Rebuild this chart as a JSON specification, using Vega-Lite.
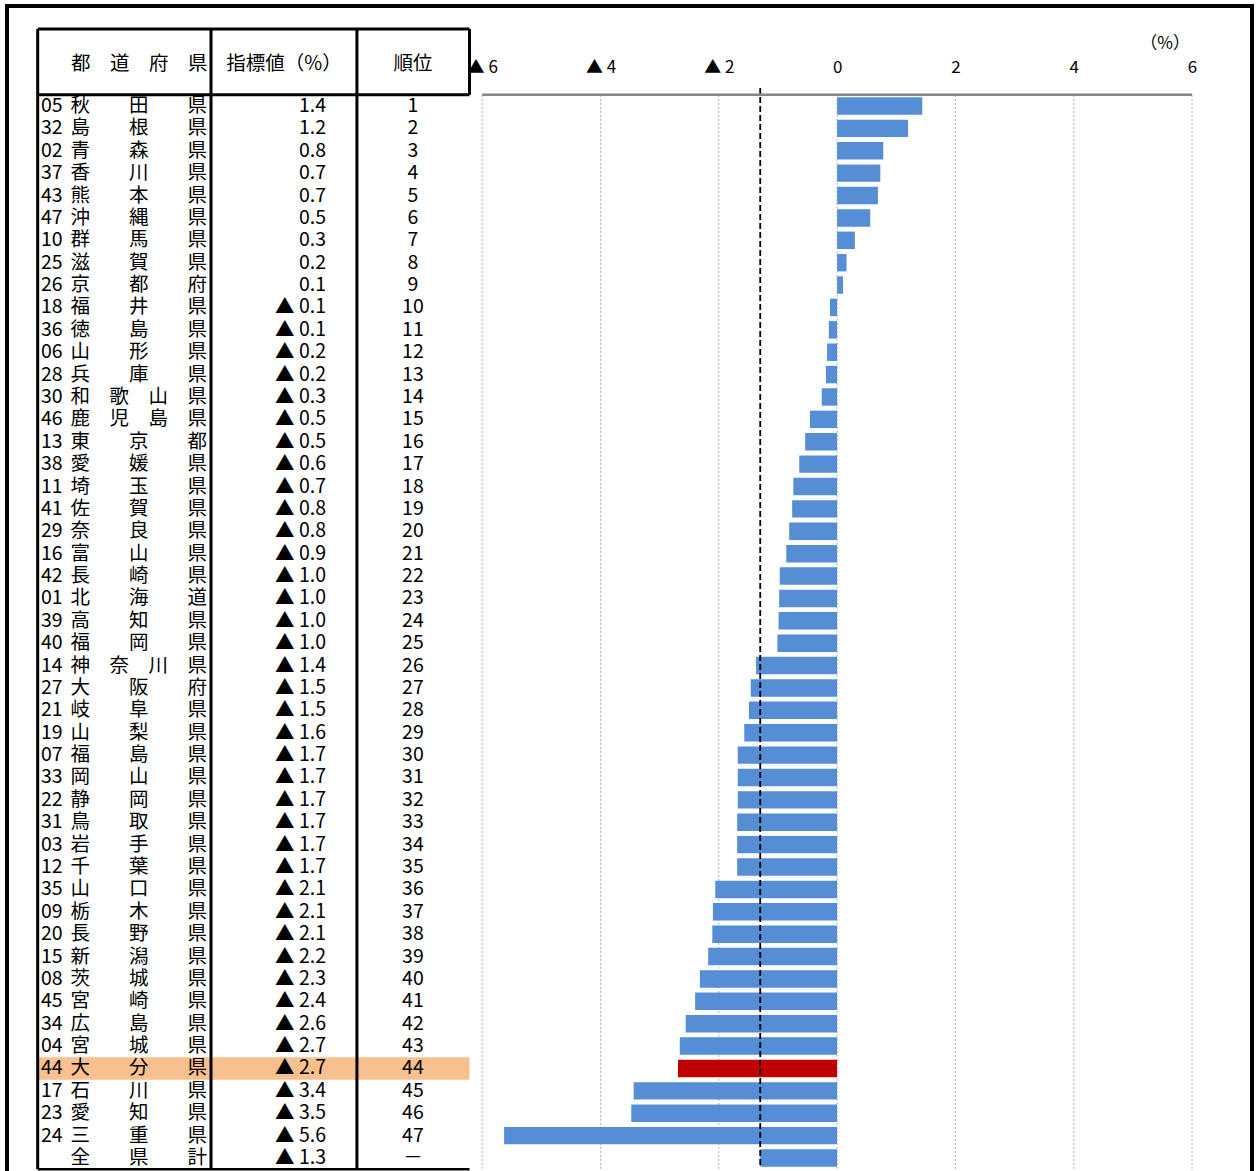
{
  "$schema": "https://vega.github.io/schema/vega-lite/v6.json",
  "autosize": {"type": "none"},
  "width": 1245,
  "height": 1168,
  "padding": {"left": 7, "top": 6, "right": 4, "bottom": -3},
  "background": "white",
  "config": {
    "font": "Noto Sans CJK JP",
    "view": {"stroke": "black", "strokeWidth": 4},
    "text": {"font": "Noto Sans CJK JP", "fontSize": 19.5, "color": "black"}
  },
  "datasets": {
    "rows": [
      {"code": "05", "name": "秋　　田　　県", "value": 1.44, "label": "1.4", "rank": "1"},
      {"code": "32", "name": "島　　根　　県", "value": 1.2, "label": "1.2", "rank": "2"},
      {"code": "02", "name": "青　　森　　県", "value": 0.78, "label": "0.8", "rank": "3"},
      {"code": "37", "name": "香　　川　　県", "value": 0.73, "label": "0.7", "rank": "4"},
      {"code": "43", "name": "熊　　本　　県", "value": 0.69, "label": "0.7", "rank": "5"},
      {"code": "47", "name": "沖　　縄　　県", "value": 0.56, "label": "0.5", "rank": "6"},
      {"code": "10", "name": "群　　馬　　県", "value": 0.3, "label": "0.3", "rank": "7"},
      {"code": "25", "name": "滋　　賀　　県", "value": 0.16, "label": "0.2", "rank": "8"},
      {"code": "26", "name": "京　　都　　府", "value": 0.1, "label": "0.1", "rank": "9"},
      {"code": "18", "name": "福　　井　　県", "value": -0.12, "label": "▲ 0.1", "rank": "10"},
      {"code": "36", "name": "徳　　島　　県", "value": -0.14, "label": "▲ 0.1", "rank": "11"},
      {"code": "06", "name": "山　　形　　県", "value": -0.17, "label": "▲ 0.2", "rank": "12"},
      {"code": "28", "name": "兵　　庫　　県", "value": -0.19, "label": "▲ 0.2", "rank": "13"},
      {"code": "30", "name": "和　歌　山　県", "value": -0.26, "label": "▲ 0.3", "rank": "14"},
      {"code": "46", "name": "鹿　児　島　県", "value": -0.46, "label": "▲ 0.5", "rank": "15"},
      {"code": "13", "name": "東　　京　　都", "value": -0.54, "label": "▲ 0.5", "rank": "16"},
      {"code": "38", "name": "愛　　媛　　県", "value": -0.64, "label": "▲ 0.6", "rank": "17"},
      {"code": "11", "name": "埼　　玉　　県", "value": -0.74, "label": "▲ 0.7", "rank": "18"},
      {"code": "41", "name": "佐　　賀　　県", "value": -0.76, "label": "▲ 0.8", "rank": "19"},
      {"code": "29", "name": "奈　　良　　県", "value": -0.81, "label": "▲ 0.8", "rank": "20"},
      {"code": "16", "name": "富　　山　　県", "value": -0.86, "label": "▲ 0.9", "rank": "21"},
      {"code": "42", "name": "長　　崎　　県", "value": -0.97, "label": "▲ 1.0", "rank": "22"},
      {"code": "01", "name": "北　　海　　道", "value": -0.98, "label": "▲ 1.0", "rank": "23"},
      {"code": "39", "name": "高　　知　　県", "value": -0.99, "label": "▲ 1.0", "rank": "24"},
      {"code": "40", "name": "福　　岡　　県", "value": -1.01, "label": "▲ 1.0", "rank": "25"},
      {"code": "14", "name": "神　奈　川　県", "value": -1.37, "label": "▲ 1.4", "rank": "26"},
      {"code": "27", "name": "大　　阪　　府", "value": -1.46, "label": "▲ 1.5", "rank": "27"},
      {"code": "21", "name": "岐　　阜　　県", "value": -1.49, "label": "▲ 1.5", "rank": "28"},
      {"code": "19", "name": "山　　梨　　県", "value": -1.57, "label": "▲ 1.6", "rank": "29"},
      {"code": "07", "name": "福　　島　　県", "value": -1.68, "label": "▲ 1.7", "rank": "30"},
      {"code": "33", "name": "岡　　山　　県", "value": -1.68, "label": "▲ 1.7", "rank": "31"},
      {"code": "22", "name": "静　　岡　　県", "value": -1.68, "label": "▲ 1.7", "rank": "32"},
      {"code": "31", "name": "鳥　　取　　県", "value": -1.69, "label": "▲ 1.7", "rank": "33"},
      {"code": "03", "name": "岩　　手　　県", "value": -1.69, "label": "▲ 1.7", "rank": "34"},
      {"code": "12", "name": "千　　葉　　県", "value": -1.69, "label": "▲ 1.7", "rank": "35"},
      {"code": "35", "name": "山　　口　　県", "value": -2.06, "label": "▲ 2.1", "rank": "36"},
      {"code": "09", "name": "栃　　木　　県", "value": -2.1, "label": "▲ 2.1", "rank": "37"},
      {"code": "20", "name": "長　　野　　県", "value": -2.11, "label": "▲ 2.1", "rank": "38"},
      {"code": "15", "name": "新　　潟　　県", "value": -2.18, "label": "▲ 2.2", "rank": "39"},
      {"code": "08", "name": "茨　　城　　県", "value": -2.32, "label": "▲ 2.3", "rank": "40"},
      {"code": "45", "name": "宮　　崎　　県", "value": -2.4, "label": "▲ 2.4", "rank": "41"},
      {"code": "34", "name": "広　　島　　県", "value": -2.56, "label": "▲ 2.6", "rank": "42"},
      {"code": "04", "name": "宮　　城　　県", "value": -2.66, "label": "▲ 2.7", "rank": "43"},
      {"code": "44", "name": "大　　分　　県", "value": -2.69, "label": "▲ 2.7", "rank": "44"},
      {"code": "17", "name": "石　　川　　県", "value": -3.44, "label": "▲ 3.4", "rank": "45"},
      {"code": "23", "name": "愛　　知　　県", "value": -3.48, "label": "▲ 3.5", "rank": "46"},
      {"code": "24", "name": "三　　重　　県", "value": -5.63, "label": "▲ 5.6", "rank": "47"},
      {"code": "", "name": "全　　県　　計", "value": -1.3, "label": "▲ 1.3", "rank": "－"}
    ],
    "ticks": [{"tick": -6}, {"tick": -4}, {"tick": -2}, {"tick": 0}, {"tick": 2}, {"tick": 4}, {"tick": 6}],
    "one": [{}]
  },
  "data": {"name": "rows"},
  "encoding": {
    "y": {
      "field": "name",
      "type": "nominal",
      "sort": null,
      "axis": null,
      "scale": {
        "domain": ["秋　　田　　県", "島　　根　　県", "青　　森　　県", "香　　川　　県", "熊　　本　　県", "沖　　縄　　県", "群　　馬　　県", "滋　　賀　　県", "京　　都　　府", "福　　井　　県", "徳　　島　　県", "山　　形　　県", "兵　　庫　　県", "和　歌　山　県", "鹿　児　島　県", "東　　京　　都", "愛　　媛　　県", "埼　　玉　　県", "佐　　賀　　県", "奈　　良　　県", "富　　山　　県", "長　　崎　　県", "北　　海　　道", "高　　知　　県", "福　　岡　　県", "神　奈　川　県", "大　　阪　　府", "岐　　阜　　県", "山　　梨　　県", "福　　島　　県", "岡　　山　　県", "静　　岡　　県", "鳥　　取　　県", "岩　　手　　県", "千　　葉　　県", "山　　口　　県", "栃　　木　　県", "長　　野　　県", "新　　潟　　県", "茨　　城　　県", "宮　　崎　　県", "広　　島　　県", "宮　　城　　県", "大　　分　　県", "石　　川　　県", "愛　　知　　県", "三　　重　　県", "全　　県　　計"],
        "range": [88.8, 1163.2],
        "paddingInner": 0,
        "paddingOuter": 0
      }
    }
  },
  "layer": [
    {
      "transform": [{"filter": "datum.code === '44'"}],
      "mark": {"type": "rect", "fill": "#F8C08E"},
      "encoding": {
        "x": {"datum": -13.515, "type": "quantitative", "title": null},
        "x2": {"datum": -6.215}
      }
    },
    {
      "data": {"name": "ticks"},
      "mark": {"type": "rule", "stroke": "#B0B0B0", "strokeWidth": 1, "strokeDash": [2, 2]},
      "encoding": {
        "x": {"field": "tick", "type": "quantitative", "title": null},
        "y": {"datum": "秋　　田　　県", "type": "nominal", "bandPosition": 0},
        "y2": {"datum": "全　　県　　計", "bandPosition": 1}
      }
    },
    {
      "mark": {"type": "bar", "height": {"band": 0.78}},
      "encoding": {
        "x": {
          "field": "value",
          "type": "quantitative",
          "title": null,
          "scale": {"domain": [-14.034, 7.014], "nice": false, "zero": false},
          "axis": {
            "orient": "top",
            "offset": -89,
            "values": [-6, -4, -2, 0, 2, 4, 6],
            "labelExpr": "datum.value < 0 ? '▲ ' + (-datum.value) : '' + datum.value",
            "domain": false,
            "ticks": false,
            "grid": false,
            "labelPadding": 19,
            "labelFontSize": 17,
            "labelColor": "black",
            "labelFont": "Noto Sans CJK JP",
            "labelFlush": false,
            "labelOverlap": false
          }
        },
        "x2": {"datum": 0},
        "color": {"condition": {"test": "datum.code === '44'", "value": "#C00000"}, "value": "#558ED5"}
      }
    },
    {
      "transform": [{"filter": "datum.code === ''"}],
      "mark": {"type": "rule", "stroke": "black", "strokeWidth": 1.8, "strokeDash": [6, 3]},
      "encoding": {
        "x": {"field": "value", "type": "quantitative", "title": null},
        "y": {"datum": "秋　　田　　県", "type": "nominal", "bandPosition": -0.3},
        "y2": {"datum": "全　　県　　計", "bandPosition": 0.85}
      }
    },
    {
      "data": {"name": "one"},
      "mark": {"type": "rule", "stroke": "#868686", "strokeWidth": 2.5},
      "encoding": {
        "x": {"datum": -6, "type": "quantitative", "title": null},
        "x2": {"datum": 6},
        "y": {"datum": "秋　　田　　県", "type": "nominal", "bandPosition": 0}
      }
    },
    {
      "data": {"name": "one"},
      "mark": {"type": "rule", "stroke": "black", "strokeWidth": 3},
      "encoding": {
        "x": {"datum": -13.515, "type": "quantitative", "title": null},
        "y": {"datum": "秋　　田　　県", "type": "nominal", "bandPosition": -2.94},
        "y2": {"datum": "全　　県　　計", "bandPosition": 1}
      }
    },
    {
      "data": {"name": "one"},
      "mark": {"type": "rule", "stroke": "black", "strokeWidth": 3},
      "encoding": {
        "x": {"datum": -10.585, "type": "quantitative", "title": null},
        "y": {"datum": "秋　　田　　県", "type": "nominal", "bandPosition": -2.94},
        "y2": {"datum": "全　　県　　計", "bandPosition": 1}
      }
    },
    {
      "data": {"name": "one"},
      "mark": {"type": "rule", "stroke": "black", "strokeWidth": 3},
      "encoding": {
        "x": {"datum": -8.118, "type": "quantitative", "title": null},
        "y": {"datum": "秋　　田　　県", "type": "nominal", "bandPosition": -2.94},
        "y2": {"datum": "全　　県　　計", "bandPosition": 1}
      }
    },
    {
      "data": {"name": "one"},
      "mark": {"type": "rule", "stroke": "black", "strokeWidth": 3},
      "encoding": {
        "x": {"datum": -6.215, "type": "quantitative", "title": null},
        "y": {"datum": "秋　　田　　県", "type": "nominal", "bandPosition": -2.94},
        "y2": {"datum": "秋　　田　　県", "bandPosition": 0}
      }
    },
    {
      "data": {"name": "one"},
      "mark": {"type": "rule", "stroke": "black", "strokeWidth": 3},
      "encoding": {
        "x": {"datum": -13.515, "type": "quantitative", "title": null},
        "x2": {"datum": -6.215},
        "y": {"datum": "秋　　田　　県", "type": "nominal", "bandPosition": -2.94}
      }
    },
    {
      "data": {"name": "one"},
      "mark": {"type": "rule", "stroke": "black", "strokeWidth": 3},
      "encoding": {
        "x": {"datum": -13.515, "type": "quantitative", "title": null},
        "x2": {"datum": -6.215},
        "y": {"datum": "秋　　田　　県", "type": "nominal", "bandPosition": 0}
      }
    },
    {
      "data": {"name": "one"},
      "mark": {"type": "rule", "stroke": "black", "strokeWidth": 2.5},
      "encoding": {
        "x": {"datum": -13.515, "type": "quantitative", "title": null},
        "x2": {"datum": -6.215},
        "y": {"datum": "全　　県　　計", "type": "nominal", "bandPosition": 1}
      }
    },
    {
      "mark": {"type": "text", "align": "left", "baseline": "middle"},
      "encoding": {
        "x": {"datum": -13.459, "type": "quantitative", "title": null},
        "text": {"field": "code"}
      }
    },
    {
      "mark": {"type": "text", "align": "left", "baseline": "middle"},
      "encoding": {
        "x": {"datum": -12.96, "type": "quantitative", "title": null},
        "text": {"field": "name"}
      }
    },
    {
      "mark": {"type": "text", "align": "right", "baseline": "middle"},
      "encoding": {
        "x": {"datum": -8.641, "type": "quantitative", "title": null},
        "text": {"field": "label"}
      }
    },
    {
      "mark": {"type": "text", "align": "center", "baseline": "middle"},
      "encoding": {
        "x": {"datum": -7.171, "type": "quantitative", "title": null},
        "text": {"field": "rank"}
      }
    },
    {
      "data": {"name": "one"},
      "mark": {"type": "text", "align": "left", "baseline": "middle", "dy": 2, "text": "都　道　府　県"},
      "encoding": {
        "x": {"datum": -12.95, "type": "quantitative", "title": null},
        "y": {"datum": "秋　　田　　県", "type": "nominal", "bandPosition": -1.465}
      }
    },
    {
      "data": {"name": "one"},
      "mark": {"type": "text", "align": "center", "baseline": "middle", "dy": 2, "text": "指標値（%）"},
      "encoding": {
        "x": {"datum": -9.351, "type": "quantitative", "title": null},
        "y": {"datum": "秋　　田　　県", "type": "nominal", "bandPosition": -1.465}
      }
    },
    {
      "data": {"name": "one"},
      "mark": {"type": "text", "align": "center", "baseline": "middle", "dy": 2, "text": "順位"},
      "encoding": {
        "x": {"datum": -7.171, "type": "quantitative", "title": null},
        "y": {"datum": "秋　　田　　県", "type": "nominal", "bandPosition": -1.465}
      }
    },
    {
      "data": {"name": "one"},
      "mark": {"type": "text", "align": "center", "baseline": "middle", "text": "（%）", "fontSize": 17},
      "encoding": {
        "x": {"datum": 5.544, "type": "quantitative", "title": null},
        "y": {"datum": "秋　　田　　県", "type": "nominal", "bandPosition": -2.28}
      }
    }
  ]
}
